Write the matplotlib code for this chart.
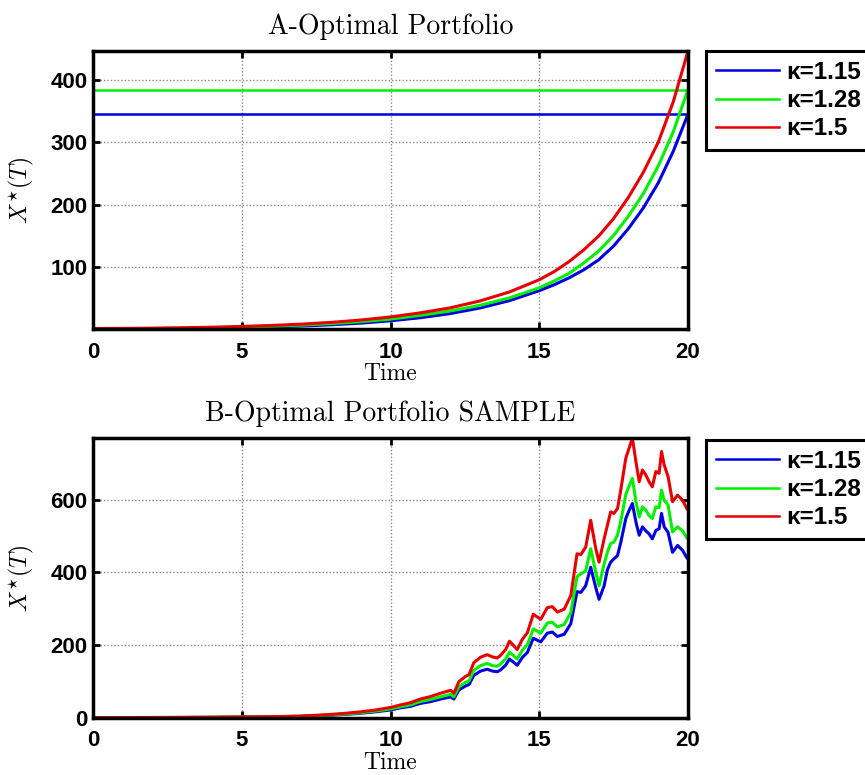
import numpy as np
import matplotlib
matplotlib.use("Agg")
import matplotlib.pyplot as plt

# --- Data ---
kappa_labels = ["κ=1.15", "κ=1.28", "κ=1.5"]
colors = ["#0000e0", "#00f000", "#e80000"]

# A: deterministic optimal portfolio
t_a = [0, 1, 2, 3, 4, 5, 6, 7, 8, 9, 10, 11, 12, 13, 14, 15, 15.5, 16, 16.5,
       17, 17.5, 18, 18.5, 19, 19.5, 20]
a_blue = [1.2, 1.4, 1.6, 2.0, 2.5, 3.3, 4.4, 5.9, 7.9, 10.6, 14.3, 19.2, 25.8,
          34.7, 46.6, 62.5, 72, 83, 96, 112, 134, 162, 195, 235, 285, 345]
a_green = [1.6, 1.8, 2.0, 2.5, 3.2, 4.2, 5.6, 7.4, 9.8, 13, 17, 23, 30, 39, 51,
           67, 78, 90, 107, 126, 151, 182, 218, 262, 316, 384]
a_red = [2.0, 2.2, 2.6, 3.2, 4.1, 5.3, 6.9, 9.0, 11.8, 15.5, 20.5, 27, 35, 46,
         60.5, 80, 93, 109, 128, 150, 178, 212, 252, 300, 364, 446]
a_levels = [345, 384, 446]

# B: one sample path
t_b = [0, 1, 2, 3, 4, 5, 6, 7, 7.5, 8,
       8.5, 9, 9.5, 10.0, 10.34, 10.67, 11.0, 11.35, 11.68, 12.02,
       12.13, 12.3, 12.52, 12.64, 12.8, 13.03, 13.25, 13.42, 13.59, 13.7,
       13.87, 14.0, 14.26, 14.43, 14.6, 14.8, 15.05, 15.27, 15.44, 15.61,
       15.84, 16.06, 16.27, 16.4, 16.56, 16.73, 16.9, 17.01, 17.18, 17.29,
       17.4, 17.51, 17.63, 17.74, 17.91, 18.02, 18.13, 18.25, 18.36, 18.47,
       18.58, 18.69, 18.8, 18.92, 19.03, 19.11, 19.2, 19.33, 19.48, 19.65,
       19.82, 19.96, 20.0]
b_red = [1, 1.2, 1.5, 1.8, 2.2, 3, 3.6, 5.5, 7.5, 10,
         13, 17, 22, 29, 36, 42, 52, 59, 68, 76,
         68, 100, 114, 119, 152, 167, 174, 168, 165, 172,
         188, 211, 188, 216, 234, 285, 271, 303, 306, 291,
         299, 336, 451, 449, 469, 543, 465, 428, 492, 529,
         566, 562, 575, 626, 714, 741, 769, 704, 649, 681,
         668, 649, 635, 677, 672, 732, 695, 663, 594, 612,
         598, 575, 571]
b_green = [0.9, 1.0, 1.3, 1.5, 1.9, 2.6, 3.1, 4.7, 6.4, 8.6,
           11, 14.6, 19, 25, 31, 36, 45, 51, 58, 65,
           58, 86, 98, 102, 131, 144, 150, 144, 142, 148,
           162, 181, 162, 186, 201, 245, 233, 261, 263, 250,
           257, 289, 388, 396, 404, 465, 400, 363, 423, 455,
           479, 483, 502, 540, 614, 637, 658, 594, 552, 580,
           571, 556, 548, 580, 578, 626, 598, 585, 511, 525,
           514, 495, 492]
b_blue = [0.8, 0.9, 1.2, 1.4, 1.7, 2.3, 2.8, 4.2, 5.8, 7.7,
          10, 13, 17, 22, 28, 32, 40, 45, 52, 58,
          52, 77, 88, 92, 117, 129, 134, 129, 127, 132,
          145, 162, 145, 166, 180, 219, 209, 233, 236, 224,
          230, 259, 347, 345, 363, 414, 358, 326, 363, 407,
          428, 437, 446, 482, 548, 570, 589, 538, 502, 525,
          514, 506, 492, 515, 520, 562, 525, 510, 455, 474,
          460, 440, 437]

x_ticks = [0, 5, 10, 15, 20]
a_yticks = [100, 200, 300, 400]
b_yticks = [0, 200, 400, 600]

# --- Style ---
plt.rcParams["mathtext.fontset"] = "cm"
tick_font = dict(family="Liberation Sans", weight="bold", size=16)
serif = "cmr10"

fig = plt.figure(figsize=(8.65, 7.75), dpi=100)
W, H = 865, 775
ax1 = fig.add_axes([93 / W, 1 - 329 / H, (688 - 93) / W, (329 - 51) / H])
ax2 = fig.add_axes([93 / W, 1 - 718 / H, (688 - 93) / W, (718 - 438) / H])


def style_axes(ax, yticks, title):
    ax.set_xlim(0, 20)
    ax.set_xticks(x_ticks)
    ax.set_yticks(yticks)
    ax.set_xticklabels([str(v) for v in x_ticks], fontdict=tick_font)
    ax.set_yticklabels([str(v) for v in yticks], fontdict=tick_font)
    ax.tick_params(direction="in", length=5, width=2, top=True, right=True)
    ax.tick_params(axis="x", pad=9)
    ax.tick_params(axis="y", pad=4)
    for sp in ax.spines.values():
        sp.set_linewidth(2.5)
    ax.grid(True, linestyle=(0, (1, 1.5)), linewidth=1, color="#888888")
    ax.set_xlabel("Time", fontname=serif, fontsize=17, labelpad=0)
    ax.set_ylabel(r"$X^{\star}(T)$", fontsize=17, labelpad=10)
    ax.set_title(title, fontname=serif, fontsize=20, pad=12)


# A
for lvl, ys, c, lab in zip(a_levels, [a_blue, a_green, a_red], colors, kappa_labels):
    ax1.plot(t_a, ys, color=c, linewidth=2.2, label=lab)
    ax1.axhline(lvl, color=c, linewidth=1.8)
all_a = a_blue + a_green + a_red
ax1.set_ylim(min(all_a), max(all_a))
style_axes(ax1, a_yticks, "A-Optimal Portfolio")

# B
for ys, c, lab in zip([b_blue, b_green, b_red], colors, kappa_labels):
    ax2.plot(t_b, ys, color=c, linewidth=2.2, label=lab)
ax2.set_ylim(0, max(b_red))
style_axes(ax2, b_yticks, "B-Optimal Portfolio SAMPLE")

leg_kw = dict(loc="upper left", prop=dict(family="Liberation Sans", weight="bold", size=17.5),
              fancybox=False, edgecolor="black", framealpha=1, handlelength=2.6,
              handletextpad=0.3, labelspacing=0.22, borderpad=0.4, borderaxespad=0)
for ax, ytop in [(ax1, 51), (ax2, 440)]:
    leg = ax.legend(bbox_to_anchor=(706 / W, 1 - ytop / H), bbox_transform=fig.transFigure, **leg_kw)
    leg.get_frame().set_linewidth(2.2)
    for h in leg.get_lines():
        h.set_linewidth(1.8)

fig.savefig("out.png", dpi=100)
